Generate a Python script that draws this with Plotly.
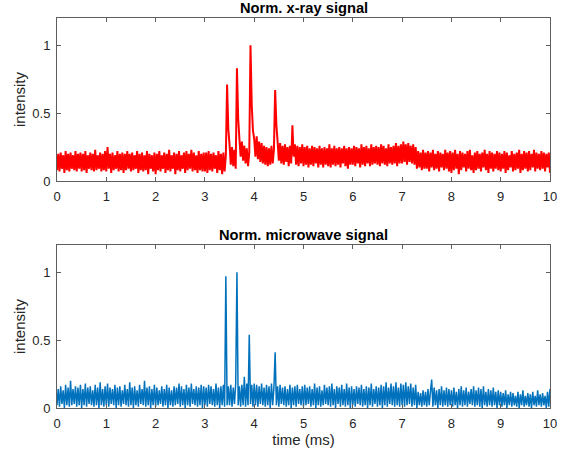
import numpy as np
import plotly.graph_objects as go

xray = [
    0.08, 0.20, 0.07, 0.21, 0.09, 0.19, 0.06, 0.22, 0.08, 0.20, 0.07, 0.21, 0.09, 0.19, 0.08, 0.22, 0.07, 0.20, 0.09, 0.21,
    0.07, 0.20, 0.08, 0.22, 0.06, 0.19, 0.09, 0.21, 0.08, 0.20, 0.07, 0.23, 0.08, 0.19, 0.09, 0.21, 0.07, 0.20, 0.08, 0.22,
    0.07, 0.25, 0.09, 0.20, 0.06, 0.21, 0.08, 0.19, 0.09, 0.22, 0.07, 0.20, 0.08, 0.21, 0.06, 0.20, 0.08, 0.22, 0.09, 0.20,
    0.07, 0.21, 0.08, 0.19, 0.09, 0.22, 0.06, 0.20, 0.08, 0.21, 0.07, 0.19, 0.08, 0.22, 0.05, 0.20, 0.09, 0.19, 0.07, 0.21,
    0.05, 0.20, 0.08, 0.22, 0.07, 0.19, 0.09, 0.21, 0.06, 0.20, 0.08, 0.23, 0.07, 0.19, 0.09, 0.21, 0.05, 0.20, 0.08, 0.22,
    0.07, 0.19, 0.09, 0.21, 0.06, 0.22, 0.08, 0.20, 0.09, 0.23, 0.07, 0.21, 0.08, 0.19, 0.06, 0.22, 0.08, 0.20, 0.07, 0.21,
    0.07, 0.21, 0.06, 0.22, 0.08, 0.20, 0.07, 0.21, 0.09, 0.19, 0.06, 0.22, 0.08, 0.20, 0.05, 0.21, 0.07, 0.19, 0.71, 0.38,
    0.27, 0.12, 0.25, 0.11, 0.23, 0.09, 0.83, 0.46, 0.31, 0.18, 0.29, 0.15, 0.26, 0.13, 0.24, 0.11, 0.21, 1.00, 0.56, 0.37,
    0.31, 0.18, 0.33, 0.16, 0.29, 0.14, 0.28, 0.13, 0.26, 0.12, 0.25, 0.11, 0.24, 0.12, 0.26, 0.13, 0.23, 0.67, 0.41, 0.29,
    0.15, 0.28, 0.13, 0.26, 0.12, 0.27, 0.14, 0.25, 0.11, 0.26, 0.13, 0.41, 0.18, 0.27, 0.12, 0.26, 0.11, 0.25, 0.13, 0.27,
    0.11, 0.25, 0.12, 0.26, 0.10, 0.24, 0.12, 0.26, 0.11, 0.25, 0.13, 0.24, 0.10, 0.26, 0.12, 0.24, 0.10, 0.25, 0.12, 0.24,
    0.11, 0.27, 0.10, 0.24, 0.12, 0.26, 0.11, 0.24, 0.12, 0.25, 0.10, 0.24, 0.13, 0.26, 0.11, 0.24, 0.09, 0.25, 0.12, 0.24,
    0.12, 0.26, 0.11, 0.25, 0.13, 0.24, 0.10, 0.27, 0.12, 0.25, 0.11, 0.26, 0.13, 0.24, 0.11, 0.27, 0.12, 0.25, 0.13, 0.26,
    0.12, 0.25, 0.11, 0.27, 0.13, 0.26, 0.12, 0.24, 0.11, 0.27, 0.13, 0.25, 0.12, 0.26, 0.13, 0.28, 0.11, 0.26, 0.13, 0.27,
    0.13, 0.29, 0.14, 0.27, 0.12, 0.28, 0.14, 0.26, 0.13, 0.27, 0.12, 0.25, 0.09, 0.22, 0.10, 0.21, 0.08, 0.23, 0.09, 0.21,
    0.09, 0.22, 0.07, 0.21, 0.10, 0.23, 0.08, 0.20, 0.09, 0.22, 0.07, 0.21, 0.10, 0.20, 0.08, 0.23, 0.09, 0.21, 0.07, 0.22,
    0.06, 0.21, 0.08, 0.23, 0.09, 0.20, 0.05, 0.22, 0.08, 0.21, 0.10, 0.20, 0.07, 0.22, 0.09, 0.23, 0.08, 0.19, 0.06, 0.21,
    0.08, 0.22, 0.09, 0.20, 0.07, 0.21, 0.10, 0.23, 0.08, 0.20, 0.06, 0.22, 0.09, 0.21, 0.07, 0.20, 0.09, 0.22, 0.08, 0.21,
    0.07, 0.20, 0.09, 0.22, 0.06, 0.21, 0.08, 0.19, 0.10, 0.22, 0.07, 0.20, 0.08, 0.21, 0.09, 0.23, 0.06, 0.20, 0.08, 0.22,
    0.09, 0.21, 0.07, 0.22, 0.08, 0.20, 0.10, 0.23, 0.07, 0.21, 0.09, 0.20, 0.08, 0.22, 0.09, 0.21, 0.07, 0.20, 0.10, 0.21,
    0.06,
]

# Normalised microwave signal, same sampling
microwave = [
    0.02, 0.14, 0.01, 0.16, 0.03, 0.13, 0.00, 0.17, 0.02, 0.15, 0.01, 0.20, 0.02, 0.14, 0.03, 0.16, 0.01, 0.15, 0.02, 0.17,
    0.00, 0.14, 0.02, 0.18, 0.01, 0.15, 0.03, 0.16, 0.02, 0.13, 0.01, 0.17, 0.02, 0.15, 0.00, 0.19, 0.02, 0.14, 0.01, 0.16,
    0.02, 0.18, 0.01, 0.15, 0.03, 0.14, 0.02, 0.17, 0.00, 0.15, 0.02, 0.16, 0.01, 0.13, 0.03, 0.17, 0.02, 0.14, 0.01, 0.19,
    0.02, 0.15, 0.00, 0.16, 0.02, 0.13, 0.01, 0.17, 0.03, 0.14, 0.02, 0.20, 0.01, 0.15, 0.02, 0.16, 0.00, 0.14, 0.02, 0.17,
    0.01, 0.15, 0.02, 0.13, 0.03, 0.16, 0.01, 0.14, 0.02, 0.17, 0.00, 0.15, 0.02, 0.13, 0.01, 0.16, 0.02, 0.15, 0.03, 0.18,
    0.01, 0.16, 0.02, 0.14, 0.00, 0.17, 0.02, 0.15, 0.01, 0.18, 0.03, 0.14, 0.02, 0.16, 0.01, 0.15, 0.02, 0.17, 0.00, 0.16,
    0.02, 0.15, 0.01, 0.17, 0.03, 0.16, 0.02, 0.14, 0.01, 0.18, 0.02, 0.15, 0.00, 0.16, 0.02, 0.17, 0.01, 0.97, 0.02, 0.16,
    0.02, 0.17, 0.01, 0.15, 0.03, 0.18, 1.00, 0.02, 0.16, 0.01, 0.17, 0.02, 0.23, 0.01, 0.18, 0.02, 0.54, 0.03, 0.17, 0.01,
    0.18, 0.02, 0.17, 0.01, 0.16, 0.03, 0.18, 0.02, 0.15, 0.01, 0.17, 0.02, 0.16, 0.00, 0.18, 0.02, 0.15, 0.41, 0.02, 0.16,
    0.01, 0.17, 0.03, 0.15, 0.02, 0.16, 0.01, 0.14, 0.02, 0.17, 0.00, 0.15, 0.02, 0.16, 0.01, 0.17, 0.03, 0.14, 0.02, 0.16,
    0.01, 0.17, 0.02, 0.15, 0.03, 0.16, 0.01, 0.14, 0.02, 0.18, 0.00, 0.15, 0.02, 0.16, 0.01, 0.13, 0.02, 0.17, 0.03, 0.15,
    0.02, 0.16, 0.01, 0.18, 0.02, 0.14, 0.00, 0.16, 0.03, 0.15, 0.01, 0.17, 0.02, 0.14, 0.01, 0.18, 0.02, 0.15, 0.00, 0.16,
    0.02, 0.14, 0.01, 0.16, 0.03, 0.15, 0.02, 0.17, 0.01, 0.14, 0.02, 0.16, 0.00, 0.15, 0.02, 0.18, 0.01, 0.14, 0.03, 0.16,
    0.01, 0.15, 0.02, 0.17, 0.00, 0.16, 0.02, 0.19, 0.01, 0.15, 0.03, 0.18, 0.02, 0.16, 0.01, 0.19, 0.02, 0.15, 0.01, 0.18,
    0.02, 0.17, 0.01, 0.19, 0.02, 0.16, 0.03, 0.18, 0.01, 0.15, 0.02, 0.17, 0.00, 0.12, 0.02, 0.11, 0.01, 0.13, 0.02, 0.12,
    0.01, 0.14, 0.02, 0.12, 0.21, 0.01, 0.15, 0.02, 0.13, 0.00, 0.14, 0.02, 0.16, 0.01, 0.13, 0.02, 0.15, 0.01, 0.14, 0.02,
    0.13, 0.01, 0.15, 0.02, 0.12, 0.00, 0.14, 0.02, 0.16, 0.01, 0.13, 0.02, 0.15, 0.01, 0.12, 0.03, 0.14, 0.02, 0.16, 0.01,
    0.13, 0.02, 0.15, 0.01, 0.14, 0.00, 0.16, 0.02, 0.12, 0.01, 0.14, 0.02, 0.13, 0.01, 0.15, 0.02, 0.12, 0.00, 0.13, 0.02,
    0.12, 0.01, 0.11, 0.02, 0.13, 0.00, 0.10, 0.02, 0.12, 0.01, 0.11, 0.02, 0.09, 0.01, 0.12, 0.00, 0.10, 0.02, 0.13, 0.01,
    0.09, 0.02, 0.11, 0.01, 0.10, 0.00, 0.12, 0.02, 0.09, 0.01, 0.13, 0.02, 0.10, 0.01, 0.11, 0.02, 0.09, 0.00, 0.12, 0.01,
    0.14,
]

t_start, t_end = 0.0, 10.0
x_ticks = [0, 1, 2, 3, 4, 5, 6, 7, 8, 9, 10]
y_ticks = [0, 0.5, 1]
y_tick_labels = ["0", "0.5", "1"]
titles = ["Norm. x-ray signal", "Norm. microwave signal"]
x_label = "time (ms)"
y_label = "intensity"

t_x = np.linspace(t_start, t_end, len(xray))
t_m = np.linspace(t_start, t_end, len(microwave))

FONT = "Liberation Sans, Arial, Helvetica, sans-serif"
TXT = "#262626"
AX = "#5e5e5e"

fig = go.Figure()
fig.add_trace(go.Scatter(x=t_x, y=xray, mode="lines",
                         line=dict(color="#FF0000", width=2.0, simplify=False),
                         xaxis="x", yaxis="y", showlegend=False, hoverinfo="skip"))
fig.add_trace(go.Scatter(x=t_m, y=microwave, mode="lines",
                         line=dict(color="#0072BD", width=1.5, simplify=False),
                         xaxis="x2", yaxis="y2", showlegend=False, hoverinfo="skip"))

common = dict(showline=True, linecolor=AX, linewidth=1, mirror="ticks", ticks="inside",
              ticklen=4, tickcolor=AX, tickwidth=1, showgrid=False, zeroline=False,
              automargin=False,
              tickfont=dict(family=FONT, size=13, color=TXT), ticklabelstandoff=3)

xcommon = dict(common, range=[t_start, t_end], tickvals=x_ticks,
               ticktext=[str(v) for v in x_ticks])
ycommon = dict(common, range=[0, 1.2], tickvals=y_ticks, ticktext=y_tick_labels,
               title=dict(text=y_label, font=dict(family=FONT, size=15, color=TXT), standoff=3))

fig.update_layout(
    width=573, height=455,
    margin=dict(l=57, r=23, t=18, b=47),
    paper_bgcolor="white", plot_bgcolor="white",
    font=dict(family=FONT, color=TXT),
    xaxis=dict(xcommon, domain=[0, 1], anchor="y"),
    yaxis=dict(ycommon, domain=[0.582, 1.0], anchor="x"),
    xaxis2=dict(xcommon, domain=[0, 1], anchor="y2",
                title=dict(text=x_label, font=dict(family=FONT, size=15, color=TXT), standoff=3)),
    yaxis2=dict(ycommon, domain=[0.0, 0.418], anchor="x2"),
    annotations=[
        dict(text="<b>" + titles[0] + "</b>", xref="x domain", yref="y domain", x=0.5, y=1.0,
             xanchor="center", yanchor="bottom", showarrow=False, yshift=0,
             font=dict(family=FONT, size=14.7, color="black")),
        dict(text="<b>" + titles[1] + "</b>", xref="x2 domain", yref="y2 domain", x=0.5, y=1.0,
             xanchor="center", yanchor="bottom", showarrow=False, yshift=0,
             font=dict(family=FONT, size=14.7, color="black")),
    ],
)

# remove the browser's default 8 px body margin so the figure fills the window
fig.write_html("out.html", config={"displayModeBar": False},
               post_script="document.body.style.margin='0px';")
